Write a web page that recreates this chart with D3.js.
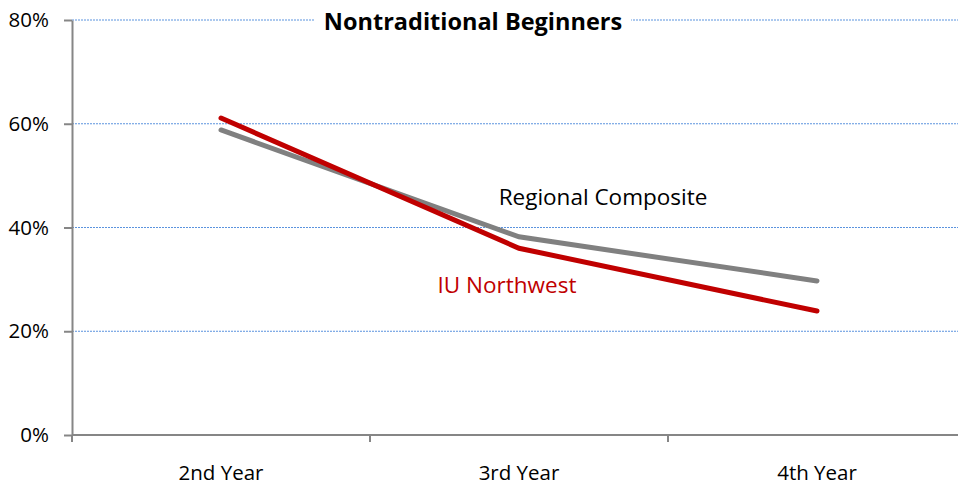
<!DOCTYPE html>
<meta charset="utf-8">
<title>Nontraditional Beginners</title>
<style>
body { margin: 0; background: #fff; }
svg text { font-family: "Open Sans", "Noto Sans", sans-serif; }
.tick text { font-size: 20.5px; fill: #000; }
.domain, .tick line { stroke: #868686; stroke-width: 2; }
</style>
<svg width="958" height="487"></svg>
<script src="https://cdn.jsdelivr.net/npm/d3@7"></script>
<script>

var years = ["2nd Year", "3rd Year", "4th Year"];
var iuNorthwest = [0.611, 0.360, 0.239];
var regional = [0.588, 0.382, 0.297];
var yTicks = [0, 0.2, 0.4, 0.6, 0.8];

var svg = d3.select("svg");

var x = d3.scaleBand().domain(years).range([72, 966]);
var y = d3.scaleLinear().domain([0, 0.8]).range([435, 20]);

// dotted gridlines
svg.append("g").selectAll("line")
    .data(yTicks.slice(1))
  .enter().append("line")
    .attr("x1", 72).attr("x2", 958)
    .attr("y1", function(d) { return y(d); })
    .attr("y2", function(d) { return y(d); })
    .attr("stroke", "#5b93de")
    .attr("stroke-width", 1)
    .attr("stroke-dasharray", "2,1");

// title with white knockout
var title = svg.append("text")
    .attr("x", 473).attr("y", 30)
    .attr("text-anchor", "middle")
    .style("font-size", "23.5px")
    .style("font-weight", "bold")
    .text("Nontraditional Beginners");
var bb = title.node().getBBox();
svg.insert("rect", "text")
    .attr("x", bb.x - 9).attr("y", 12)
    .attr("width", bb.width + 18).attr("height", 16)
    .attr("fill", "#fff");

svg.append("g")
    .attr("transform", "translate(72,0)")
    .call(d3.axisLeft(y).tickValues(yTicks).tickFormat(d3.format(".0%")).tickSize(8).tickPadding(15).tickSizeOuter(0));

var xAxis = svg.append("g")
    .attr("transform", "translate(0,435)")
    .call(d3.axisBottom(x).tickSize(0).tickPadding(30).tickSizeOuter(0));
xAxis.select(".domain").attr("d", "M72,0H958");
xAxis.selectAll(".sep")
    .data(years)
  .enter().append("line")
    .attr("x1", function(d) { return x(d); })
    .attr("x2", function(d) { return x(d); })
    .attr("y1", 0).attr("y2", 7)
    .attr("stroke", "#868686").attr("stroke-width", 2);

var line = d3.line()
    .x(function(d, i) { return x(years[i]) + x.bandwidth() / 2; })
    .y(function(d) { return y(d); });

svg.append("path")
    .datum(regional)
    .attr("fill", "none")
    .attr("stroke", "#808080")
    .attr("stroke-width", 5)
    .attr("stroke-linecap", "round")
    .attr("d", line);

svg.append("path")
    .datum(iuNorthwest)
    .attr("fill", "none")
    .attr("stroke", "#c00000")
    .attr("stroke-width", 5)
    .attr("stroke-linecap", "round")
    .attr("d", line);

svg.append("text")
    .attr("x", 603).attr("y", 205)
    .attr("text-anchor", "middle")
    .style("font-size", "22.5px")
    .attr("fill", "#000")
    .text("Regional Composite");

svg.append("text")
    .attr("x", 507).attr("y", 293)
    .attr("text-anchor", "middle")
    .style("font-size", "22.5px")
    .attr("fill", "#c00000")
    .text("IU Northwest");

</script>
